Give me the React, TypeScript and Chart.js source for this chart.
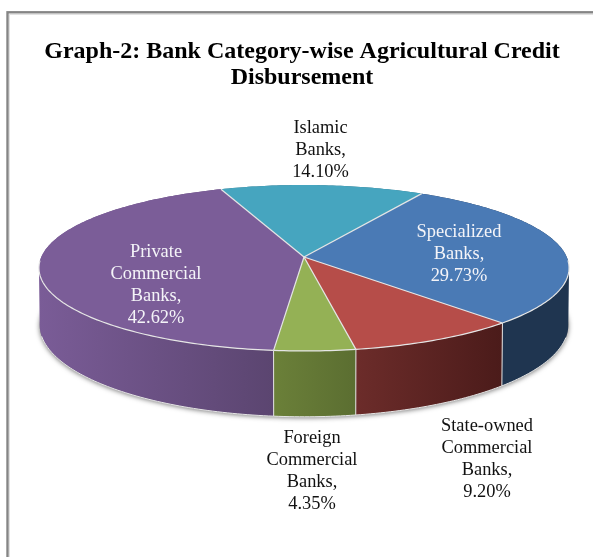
import React, { useEffect, useRef } from "react";
import { Chart, registerables } from "chart.js";

Chart.register(...registerables);

const categories = [
  "Islamic Banks",
  "Specialized Banks",
  "State-owned Commercial Banks",
  "Foreign Commercial Banks",
  "Private Commercial Banks",
];
const shares = [14.1, 29.73, 9.2, 4.35, 42.62];
const wrappedNames = [
  ["Islamic", "Banks,"],
  ["Specialized", "Banks,"],
  ["State-owned", "Commercial", "Banks,"],
  ["Foreign", "Commercial", "Banks,"],
  ["Private", "Commercial", "Banks,"],
];
const titleLines = ["Graph-2: Bank Category-wise Agricultural Credit", "Disbursement"];

const topColors = ["#46a5bf", "#4a7ab5", "#b64d49", "#94b155", "#7b5d98"];
const wallLeftColors = ["#2f7085", "#1f3550", "#6c2c2a", "#6b8039", "#7a5c97"];
const wallRightColors = ["#2f7085", "#1f3550", "#4b1b1a", "#5b6e31", "#5b4570"];
const labelColors = ["#111111", "#f4f4f8", "#111111", "#111111", "#f4f4f8"];
const labelCentres = [
  [320.5, 128],
  [459, 232],
  [487, 426],
  [312, 438],
  [156, 252],
];

const FONT = '"Liberation Serif", "Times New Roman", serif';
const LABEL_LINE = 22;
const SHIFT_X = 2;
const RIM = "#e6e6e6";

// Perspective planes of the disc, as fractions of the pie's radius.
const TOP_PLANE = { a: 1.6317, b: 0.5062, k: 0.1325, dy: 0 };
const BOTTOM_PLANE = { a: 1.627, b: 0.559, k: 0.1325, dy: 0.348 };

type Plane = typeof TOP_PLANE;

const project = (plane: Plane, arc: any, angle: number): [number, number] => {
  const u = Math.cos(angle);
  const v = Math.sin(angle);
  const w = 1 - plane.k * v;
  const R = arc.outerRadius;
  return [
    arc.x + SHIFT_X + (plane.a * R * u) / w,
    arc.y + plane.dy * R + (plane.b * R * v) / w,
  ];
};

const arcAngles = (from: number, to: number) => {
  const n = Math.max(2, Math.ceil(Math.abs(to - from) / (Math.PI / 180)));
  return Array.from({ length: n + 1 }, (_, i) => from + ((to - from) * i) / n);
};

const addPoints = (ctx: CanvasRenderingContext2D, points: [number, number][]) => {
  points.forEach(([x, y], i) => {
    if (i) ctx.lineTo(x, y);
    else ctx.moveTo(x, y);
  });
};

const tracePath = (ctx: CanvasRenderingContext2D, points: [number, number][]) => {
  ctx.beginPath();
  addPoints(ctx, points);
};

// Draws the extruded disc from the doughnut controller's arc elements.
const perspectivePie = {
  id: "perspectivePie",
  beforeDraw(chart: any) {
    const { ctx, width, height } = chart;
    ctx.save();
    ctx.fillStyle = "#ffffff";
    ctx.fillRect(0, 0, width, height);
    ctx.strokeStyle = "#e2e2e2";
    ctx.lineWidth = 1;
    ctx.strokeRect(9.5, 14.5, width + 40, height + 40);
    ctx.strokeStyle = "#858585";
    ctx.lineWidth = 2.4;
    ctx.strokeRect(7.5, 12.3, width + 40, height + 40);
    ctx.restore();
  },
  beforeDatasetsDraw(chart: any) {
    const { ctx } = chart;
    const arcs = chart.getDatasetMeta(0).data;
    ctx.save();
    ctx.lineJoin = "round";

    // Soft shadow under the lower rim.
    const first = arcs[0];
    ctx.save();
    ctx.shadowColor = "rgba(0,0,0,0.55)";
    ctx.shadowBlur = 5;
    ctx.shadowOffsetY = 1;
    ctx.fillStyle = "#888888";
    tracePath(ctx, arcAngles(0, Math.PI * 2).map((t) => project(BOTTOM_PLANE, first, t)));
    ctx.closePath();
    ctx.fill();
    ctx.restore();

    // Side walls: one path per slice, made of quads, so the vertical silhouette stays solid.
    arcs.forEach((arc: any, i: number) => {
      const angles = arcAngles(arc.startAngle, arc.endAngle);
      const upper = angles.map((t) => project(TOP_PLANE, arc, t));
      const lower = angles.map((t) => project(BOTTOM_PLANE, arc, t));
      const xs = upper.map((p) => p[0]);
      const fill = ctx.createLinearGradient(Math.min(...xs), 0, Math.max(...xs), 0);
      fill.addColorStop(0, wallLeftColors[i]);
      fill.addColorStop(1, wallRightColors[i]);
      ctx.fillStyle = fill;
      ctx.beginPath();
      for (let j = 0; j < angles.length - 1; j++) {
        const quad = [upper[j], upper[j + 1], lower[j + 1], lower[j]];
        const area = quad.reduce((sum, p, n) => {
          const q = quad[(n + 1) % 4];
          return sum + p[0] * q[1] - q[0] * p[1];
        }, 0);
        addPoints(ctx, area < 0 ? quad.slice().reverse() : quad);
        ctx.closePath();
      }
      ctx.fill();
    });

    // Light rim along the lower edge and at the front wall joints.
    ctx.strokeStyle = RIM;
    ctx.lineWidth = 1;
    arcs.forEach((arc: any) => {
      const front = arcAngles(arc.startAngle, arc.endAngle).filter((t) => Math.sin(t) > 0.25);
      if (front.length > 1) {
        tracePath(ctx, front.map((t) => project(BOTTOM_PLANE, arc, t)));
        ctx.stroke();
      }
      if (Math.sin(arc.startAngle) > 0) {
        tracePath(ctx, [project(TOP_PLANE, arc, arc.startAngle), project(BOTTOM_PLANE, arc, arc.startAngle)]);
        ctx.stroke();
      }
    });

    // Top faces, with light edges on the spokes and the front rim only.
    arcs.forEach((arc: any, i: number) => {
      const apex: [number, number] = [arc.x + SHIFT_X, arc.y];
      const angles = arcAngles(arc.startAngle, arc.endAngle);
      ctx.fillStyle = topColors[i];
      tracePath(ctx, [apex, ...angles.map((t) => project(TOP_PLANE, arc, t))]);
      ctx.closePath();
      ctx.fill();
    });
    ctx.strokeStyle = RIM;
    ctx.lineWidth = 1.2;
    arcs.forEach((arc: any) => {
      const apex: [number, number] = [arc.x + SHIFT_X, arc.y];
      tracePath(ctx, [apex, project(TOP_PLANE, arc, arc.startAngle)]);
      ctx.stroke();
      const front = arcAngles(arc.startAngle, arc.endAngle).filter((t) => Math.sin(t) > 0.03);
      if (front.length > 1) {
        tracePath(ctx, front.map((t) => project(TOP_PLANE, arc, t)));
        ctx.stroke();
      }
    });

    // Data labels.
    ctx.font = `18.4px ${FONT}`;
    ctx.textAlign = "center";
    ctx.textBaseline = "middle";
    categories.forEach((_, i) => {
      const lines = [...wrappedNames[i], `${shares[i].toFixed(2)}%`];
      const [x, y] = labelCentres[i];
      ctx.fillStyle = labelColors[i];
      lines.forEach((line, j) => ctx.fillText(line, x, y + j * LABEL_LINE));
    });
    ctx.restore();
    return false;
  },
};

export default function App() {
  const ref = useRef<HTMLCanvasElement>(null);

  useEffect(() => {
    const chart = new Chart(ref.current as HTMLCanvasElement, {
      type: "pie",
      data: {
        labels: categories,
        datasets: [{ data: shares, backgroundColor: topColors, borderWidth: 0 }],
      },
      options: {
        responsive: false,
        animation: false,
        rotation: -20.8,
        layout: { padding: { top: 39, bottom: 139, left: 16, right: 5 } },
        plugins: {
          legend: { display: false },
          tooltip: { enabled: false },
          title: {
            display: true,
            text: titleLines,
            color: "#000000",
            font: { family: FONT, size: 24, weight: "bold", lineHeight: 1.083 },
            padding: { top: 0, bottom: 5 },
          },
        },
      },
      plugins: [perspectivePie],
    } as any);
    return () => chart.destroy();
  }, []);

  return (
    <canvas
      ref={ref}
      width={593}
      height={557}
      style={{ position: "absolute", left: 0, top: 0, display: "block" }}
    />
  );
}
